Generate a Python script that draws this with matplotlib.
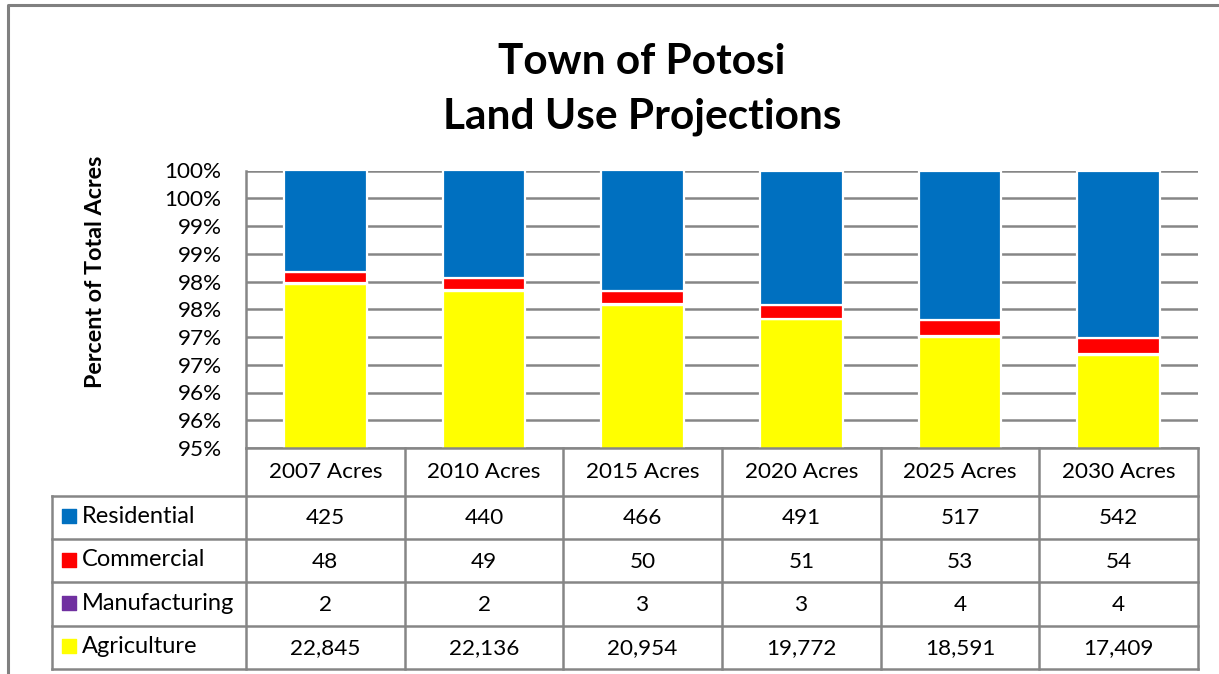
import matplotlib
matplotlib.use("Agg")
import matplotlib.pyplot as plt
import numpy as np

plt.rcParams["font.family"] = ["Lato", "DejaVu Sans"]

years = ["2007 Acres", "2010 Acres", "2015 Acres", "2020 Acres", "2025 Acres", "2030 Acres"]
categories = ["Residential", "Commercial", "Manufacturing", "Agriculture"]
residential = [425, 440, 466, 491, 517, 542]
commercial = [48, 49, 50, 51, 53, 54]
manufacturing = [2, 2, 3, 3, 4, 4]
agriculture = [22845, 22136, 20954, 19772, 18591, 17409]
colors = {"Residential": "#0070C0", "Commercial": "#FF0000",
          "Manufacturing": "#7030A0", "Agriculture": "#FFFF00"}
yticks = np.arange(95.0, 100.01, 0.5)

W, H = 1219, 674
GRID = "#868686"
FS = 16.2
fig = plt.figure(figsize=(W / 100, H / 100), dpi=100)

# outer frame (cropped on the right and bottom)
frame = fig.add_axes([0, 0, 1, 1])
frame.set_xlim(0, W); frame.set_ylim(H, 0); frame.axis("off")
frame.plot([8, 8, W], [H, 4.5, 4.5], color="#808080", lw=2.2, solid_capstyle="butt")

fig.text(642 / W, 1 - 62 / H, "Town of Potosi", ha="center", va="center",
         fontsize=30.5, fontweight="bold")
fig.text(642 / W, 1 - 117 / H, "Land Use Projections", ha="center", va="center",
         fontsize=30.5, fontweight="bold")
fig.text(95 / W, 1 - 272 / H, "Percent of Total Acres", ha="center", va="center",
         rotation=90, fontsize=16.8, fontweight="bold")

# stacked 100% bars
L, R, T, B = 246, 1198, 170.5, 448
ax = fig.add_axes([L / W, 1 - B / H, (R - L) / W, (B - T) / H])
series = {"Agriculture": agriculture, "Manufacturing": manufacturing,
          "Commercial": commercial, "Residential": residential}
totals = np.sum([np.array(v) for v in series.values()], axis=0)
x = np.arange(len(years))
ax.bar(x, 100, width=0.535, color="#dcdcdc", zorder=1)
bottom = np.zeros(len(years))
for name, vals in series.items():
    pct = 100.0 * np.array(vals) / totals
    ax.bar(x, pct, bottom=bottom, width=0.52, color=colors[name],
           edgecolor="white", linewidth=1.6, zorder=3)
    bottom += pct
ax.set_xlim(-0.5, len(years) - 0.5)
ax.set_ylim(95, 100)
ax.set_yticks(yticks)
ax.set_yticklabels([f"{int(v + 0.5)}%" for v in yticks], fontsize=FS)
ax.set_xticks([])
ax.tick_params(axis="y", length=0, pad=17.5)
ax.grid(axis="y", color=GRID, lw=1.8, zorder=0)
ax.set_axisbelow(True)
for s in ["top", "right", "bottom"]:
    ax.spines[s].set_visible(False)
ax.spines["left"].set_color(GRID)
ax.spines["left"].set_linewidth(1.8)

# data table below the plot
TL = 52
colw = (R - L) / len(years)
tab = fig.add_axes([TL / W, 1 - 669 / H, (R - TL) / W, (669 - B) / H])
tab.set_xlim(-0.5 - (L - TL) / colw, len(years) - 0.5)
tab.set_ylim(669, B)
tab.axis("off")
x0 = -0.5 - (L - TL) / colw
rows = [B, 496, 539, 582.5, 626, 669]
lk = dict(color=GRID, lw=1.8, solid_capstyle="projecting", clip_on=False)
for i, y in enumerate(rows):
    tab.plot([x0 if i > 0 else -0.5, len(years) - 0.5], [y, y], **lk)
for c in range(len(years) + 1):
    tab.plot([c - 0.5, c - 0.5], [B, 669], **lk)
tab.plot([x0, x0], [496, 669], **lk)

for c, lab in enumerate(years):
    tab.text(c, (rows[0] + rows[1]) / 2, lab, ha="center", va="center", fontsize=FS)
table_vals = [residential, commercial, manufacturing, agriculture]
for r, (name, vals) in enumerate(zip(categories, table_vals)):
    yc = (rows[r + 1] + rows[r + 2]) / 2
    tab.scatter([x0 + 17 / colw], [yc - 1], marker="s", s=95, color=colors[name],
                clip_on=False)
    tab.text(x0 + 30 / colw, yc - 1, name, ha="left", va="center", fontsize=17)
    for c, v in enumerate(vals):
        tab.text(c, yc + 1, f"{v:,}", ha="center", va="center", fontsize=FS)

fig.savefig("out.png", dpi=100)
